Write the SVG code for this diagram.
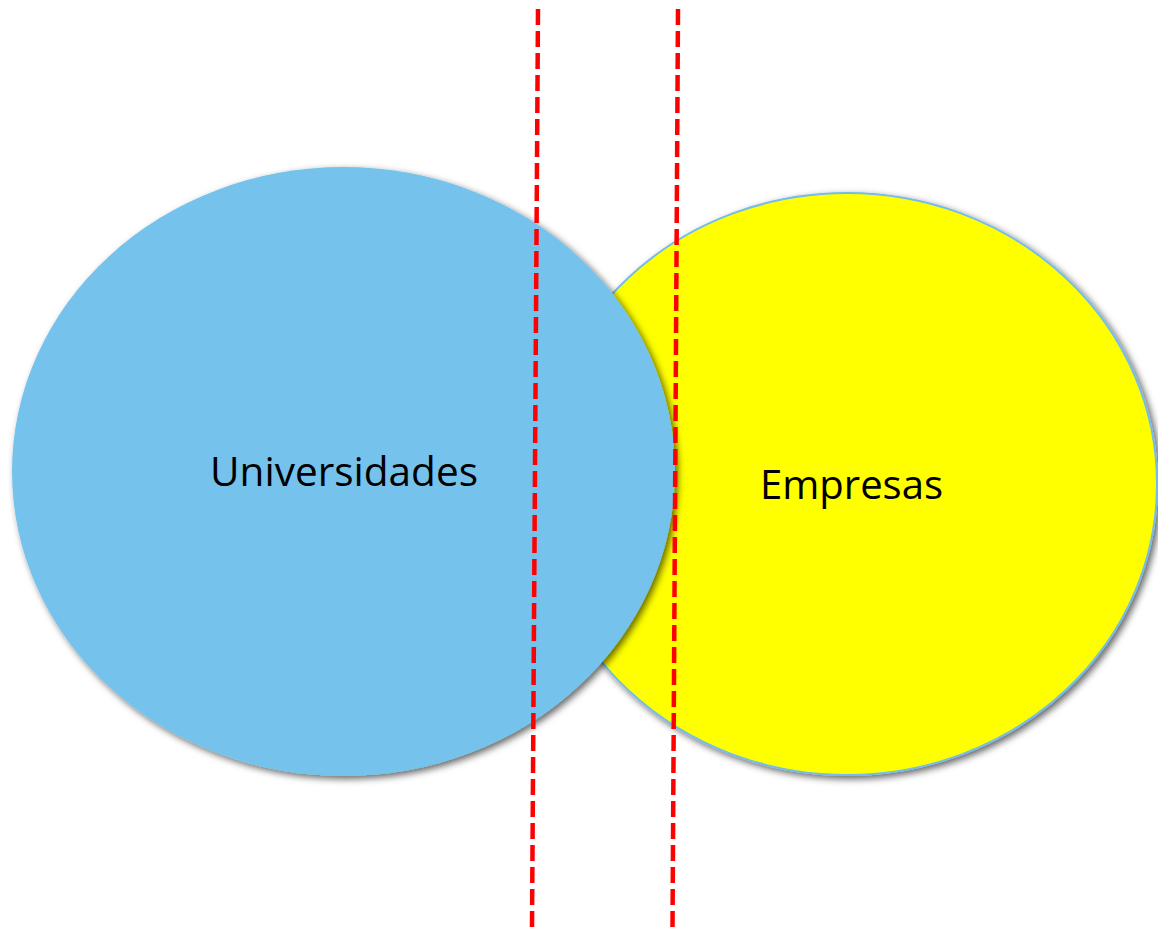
<svg xmlns="http://www.w3.org/2000/svg" width="1158" height="927" viewBox="0 0 1158 927">
  <defs>
    <filter id="shadow" x="-10%" y="-10%" width="120%" height="120%">
      <feDropShadow dx="3" dy="3" stdDeviation="3.5" flood-color="#000" flood-opacity="0.6"/>
    </filter>
  </defs>
  <style>
    .lbl { font-family: "Open Sans", "Liberation Sans", sans-serif; font-size: 41px; fill: #000; }
    .cut { stroke: #ff0000; stroke-width: 4.5; stroke-dasharray: 16 6; fill: none; }
  </style>
  <rect width="1158" height="927" fill="#ffffff"/>
  <g id="empresas">
    <ellipse cx="847" cy="484" rx="310" ry="291" fill="#ffff00" stroke="#74bde8" stroke-width="2" filter="url(#shadow)"/>
    <text class="lbl" x="760" y="499" textLength="183" lengthAdjust="spacingAndGlyphs">Empresas</text>
  </g>
  <g id="universidades">
    <ellipse cx="343.5" cy="471.5" rx="331.5" ry="304.5" fill="#74c3ec" filter="url(#shadow)"/>
    <text class="lbl" x="210" y="486" textLength="268" lengthAdjust="spacingAndGlyphs">Universidades</text>
  </g>
  <g id="connectors">
    <line class="cut" x1="538" y1="9" x2="532" y2="927"/>
    <line class="cut" x1="678" y1="9" x2="672.5" y2="927"/>
  </g>
</svg>
